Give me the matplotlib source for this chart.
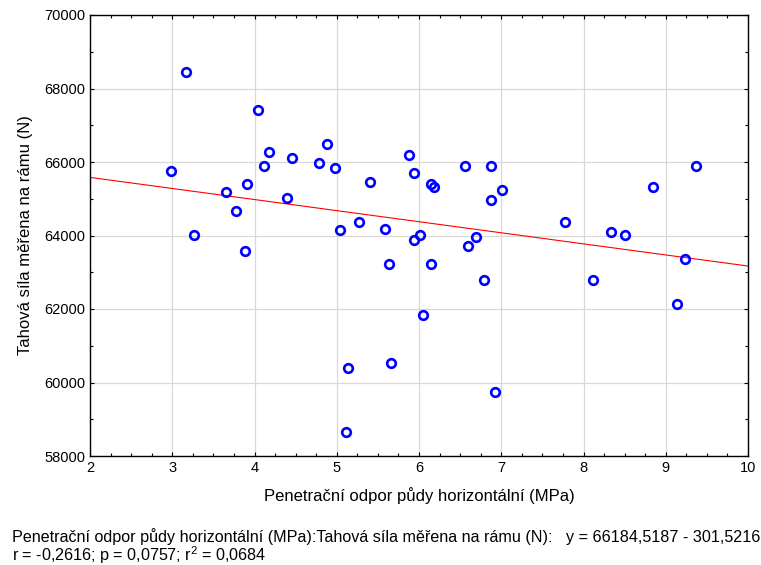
import numpy as np
import matplotlib
matplotlib.use("Agg")
import matplotlib.pyplot as plt
from matplotlib.ticker import MultipleLocator

plt.rcParams['font.family'] = ['Liberation Sans', 'DejaVu Sans']
plt.rcParams['mathtext.default'] = 'regular'

# penetrační odpor (MPa)
odpor = [2.98, 3.17, 3.27, 3.65, 3.78, 3.88, 3.91, 4.04, 4.11, 4.18,
         4.40, 4.46, 4.78, 4.88, 4.98, 5.04, 5.11, 5.14, 5.27, 5.40,
         5.59, 5.63, 5.66, 5.88, 5.94, 5.94, 6.01, 6.05, 6.14, 6.18,
         6.14, 6.56, 6.60, 6.69, 6.79, 6.88, 6.88, 6.92, 7.01, 7.78,
         8.11, 8.33, 8.50, 8.85, 9.14, 9.24, 9.37]
# tahová síla (N)
sila = [65747, 68441, 64005, 65184, 64667, 63569, 65392, 67423, 65900, 66264,
        65029, 66118, 65964, 66481, 65828, 64158, 58644, 60386, 64376, 65465,
        64168, 63215, 60531, 66190, 65692, 63880, 64020, 61828, 65401, 65311,
        63215, 65900, 63723, 63950, 62780, 65900, 64957, 59733, 65238, 64376,
        62780, 64086, 64014, 65320, 62128, 63361, 65900]

# regrese z popisku
a = 66184.5187
b = -301.5216

fig = plt.figure(figsize=(7.61, 5.65), dpi=100)
ax = fig.add_axes([90/761, 1-456/565, 658/761, 441/565])

xl = np.array([2, 10])
ax.plot(xl, a + b*xl, color='red', lw=0.8, zorder=2)
ax.plot(odpor, sila, 'o', mfc='none', mec='#0000ff', ms=6.2, mew=1.9, zorder=3)

ax.set_xlim(2, 10)
ax.set_ylim(58000, 70000)
ax.xaxis.set_major_locator(MultipleLocator(1))
ax.xaxis.set_minor_locator(MultipleLocator(0.25))
ax.yaxis.set_major_locator(MultipleLocator(2000))
ax.yaxis.set_minor_locator(MultipleLocator(1000))
ax.tick_params(which='both', direction='in', top=True, right=True, labelsize=10.5, color='black')
ax.tick_params(which='major', length=3, width=0.8)
ax.tick_params(which='minor', length=2.2, width=0.8)
ax.grid(True, which='major', color='#d9d9d9', lw=0.9, zorder=0)
ax.set_axisbelow(True)
for s in ax.spines.values():
    s.set_linewidth(1.0)

ax.set_xlabel('Penetrační odpor půdy horizontální (MPa)', fontsize=12, labelpad=9)
ax.set_ylabel('Tahová síla měřena na rámu (N)', fontsize=12, labelpad=8)

fig.text(12/761, 1-537/565, 'Penetrační odpor půdy horizontální (MPa):Tahová síla měřena na rámu (N):   y = 66184,5187 - 301,5216',
         fontsize=11.6, va='center')
fig.text(12/761, 1-555/565, 'r = -0,2616; p = 0,0757; r$^2$ = 0,0684', fontsize=11.6, va='center')

fig.savefig('out.png', dpi=100)
